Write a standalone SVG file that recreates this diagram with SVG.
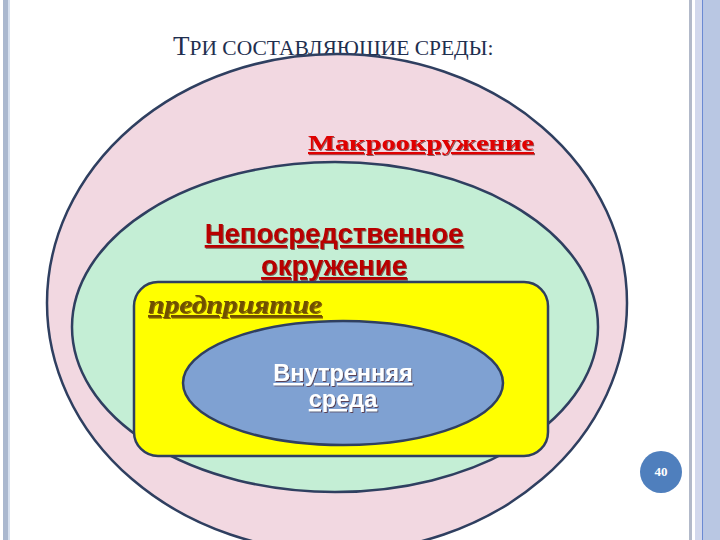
<svg xmlns="http://www.w3.org/2000/svg" width="720" height="540" viewBox="0 0 720 540">
<defs>
<style>
.shape{stroke:#2f3f60;stroke-width:2.5}
.title{font-family:"Liberation Serif",serif;fill:#1f2f4f}
.macro{font-family:"Liberation Serif",serif;font-size:22px;font-weight:bold;fill:#e00000;text-decoration:underline}
.direct{font-family:"Liberation Sans",Arial,sans-serif;font-size:27.5px;font-weight:bold;fill:#b80000;text-decoration:underline}
.ent{font-family:"Liberation Serif",serif;font-size:26px;font-weight:bold;font-style:italic;fill:#6f5000;text-decoration:underline}
.inner{font-family:"Liberation Sans",Arial,sans-serif;font-size:23.5px;font-weight:bold;fill:#ffffff;text-decoration:underline}
</style>
<filter id="sh" x="-10%" y="-30%" width="120%" height="160%">
<feDropShadow dx="1" dy="1" stdDeviation="0.6" flood-color="#400000" flood-opacity="0.6"/>
</filter>
</defs>
<rect width="720" height="540" fill="#ffffff"/>
<g id="frame">
<rect x="3" y="0" width="5" height="540" fill="#aab8cf"/>
<rect x="8" y="0" width="2" height="540" fill="#d6e0ef"/>
<rect x="689" y="0" width="3" height="540" fill="#b2b9c9"/>
<rect x="695" y="0" width="7" height="540" fill="#d2d8ec"/>
<rect x="702" y="0" width="1.5" height="540" fill="#6b8ad2"/>
<rect x="703.5" y="0" width="16.5" height="540" fill="#b9c7e3"/>
</g>
<g id="title">
<text class="title" x="173" y="55"><tspan font-size="27">Т</tspan><tspan font-size="21.5">РИ СОСТАВЛЯЮЩИЕ СРЕДЫ:</tspan></text>
</g>
<g id="macro">
<ellipse class="shape" cx="337" cy="303" rx="290" ry="249" fill="#f2d8e1"/>
<text class="macro" x="308" y="150" textLength="226" lengthAdjust="spacingAndGlyphs" filter="url(#sh)">Макроокружение</text>
</g>
<g id="direct">
<ellipse class="shape" cx="335" cy="327" rx="263" ry="165" fill="#c4eed5"/>
<text class="direct" text-anchor="middle" filter="url(#sh)"><tspan x="334" y="243">Непосредственное</tspan><tspan x="334" y="275">окружение</tspan></text>
</g>
<g id="enterprise">
<rect class="shape" x="134" y="282" width="414" height="174" rx="24" fill="#ffff00"/>
<text class="ent" x="148" y="313" textLength="174" lengthAdjust="spacingAndGlyphs" filter="url(#sh)">предприятие</text>
</g>
<g id="internal">
<ellipse class="shape" cx="343" cy="383" rx="160" ry="62" fill="#7fa1d2"/>
<text class="inner" text-anchor="middle" filter="url(#sh)"><tspan x="343" y="381">Внутренняя</tspan><tspan x="343" y="407">среда</tspan></text>
</g>
<g id="connectors"/>
<g id="page">
<circle cx="661" cy="472" r="21" fill="#4f7fbd"/>
<text x="661" y="476" text-anchor="middle" font-family="Liberation Serif,serif" font-size="13" font-weight="bold" fill="#ffffff">40</text>
</g>
</svg>
